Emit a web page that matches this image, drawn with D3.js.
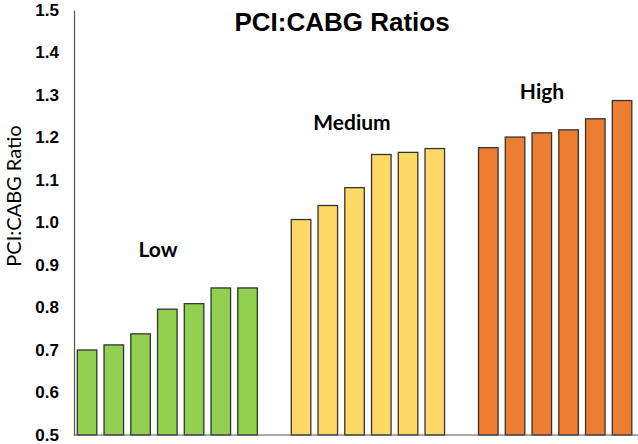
<!DOCTYPE html>
<html><head><meta charset="utf-8">
<script src="https://cdn.jsdelivr.net/npm/d3@7"></script>
<style>body{margin:0;background:#fff}</style>
</head><body>
<svg id="c" width="638" height="444"></svg>
<script>
const groups = ["Low", "Medium", "High"];
const lowValues = [0.700, 0.712, 0.738, 0.796, 0.809, 0.846, 0.846];
const mediumValues = [1.007, 1.040, 1.082, 1.160, 1.165, 1.174];
const highValues = [1.176, 1.201, 1.211, 1.218, 1.244, 1.287];
const yTicks = [0.5, 0.6, 0.7, 0.8, 0.9, 1.0, 1.1, 1.2, 1.3, 1.4, 1.5];
const title = "PCI:CABG Ratios";
const yLabel = "PCI:CABG Ratio";

const colors = {Low: "#92D050", Medium: "#FFD966", High: "#ED7D31"};
const seriesValues = [lowValues, mediumValues, highValues];

// build slot list with a gap between groups
const data = [];
let slot = 0;
seriesValues.forEach((vals, gi) => {
  vals.forEach(v => { data.push({group: groups[gi], value: v, slot: slot}); slot++; });
  if (gi < seriesValues.length - 1) slot++;
});
const nSlots = slot;

const svg = d3.select("#c");
const x0 = 74, x1 = 635.1;
const x = d3.scaleBand().domain(d3.range(nSlots)).range([x0, x1]).paddingInner(0.27).paddingOuter(0.123);
const y = d3.scaleLinear().domain([0.5, 1.5]).range([435, 10]);

// bars
svg.append("g").selectAll("rect").data(data).join("rect")
  .attr("x", d => x(d.slot))
  .attr("width", x.bandwidth())
  .attr("y", d => y(d.value))
  .attr("height", d => y(0.5) - y(d.value))
  .attr("fill", d => colors[d.group])
  .attr("stroke", "#333")
  .attr("stroke-width", 1.3);

// y axis
const yAxis = d3.axisLeft(y).tickValues(yTicks).tickFormat(d3.format(".1f")).tickSize(0).tickPadding(15);
const ga = svg.append("g").attr("transform", `translate(${x0},0)`).call(yAxis);
ga.select(".domain").attr("stroke", "#555").attr("stroke-width", 1.2);
ga.selectAll("text").attr("font-family", "Liberation Sans, Arial, sans-serif")
  .attr("font-weight", "bold").attr("font-size", 17).attr("fill", "#000");

// x axis line
svg.append("line").attr("x1", x0).attr("x2", 638).attr("y1", y(0.5)).attr("y2", y(0.5))
  .attr("stroke", "#555").attr("stroke-width", 1.2);

// title
svg.append("text").attr("x", 342).attr("y", 31).attr("text-anchor", "middle")
  .attr("font-family", "Liberation Sans, Arial, sans-serif").attr("font-weight", "bold")
  .attr("font-size", 26).attr("fill", "#000").text(title);

// group labels
const groupLabelPos = {Low: [158, 257], Medium: [352, 130], High: [542, 99]};
groups.forEach(g => {
  svg.append("text").attr("x", groupLabelPos[g][0]).attr("y", groupLabelPos[g][1])
    .attr("text-anchor", "middle").attr("font-family", "Lato, 'Open Sans', sans-serif")
    .attr("font-weight", "bold").attr("font-size", 21).attr("fill", "#000").text(g);
});

// y label
svg.append("text").attr("transform", "translate(21,196) rotate(-90)")
  .attr("text-anchor", "middle").attr("font-family", "Lato, 'Open Sans', sans-serif")
  .attr("font-size", 20).attr("fill", "#000").text(yLabel);
</script>
</body></html>
